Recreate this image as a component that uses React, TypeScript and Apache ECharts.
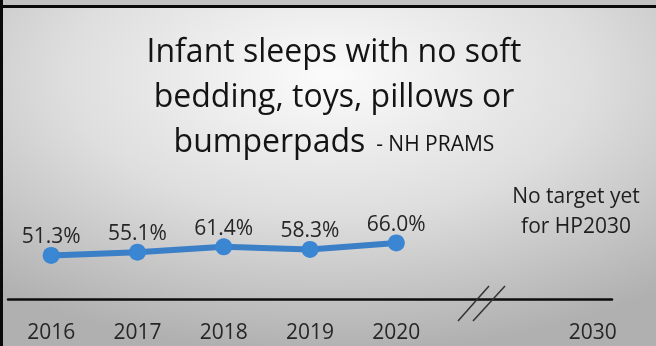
import React, { useEffect, useRef } from "react";
import * as echarts from "echarts";

const years = ["2016", "2017", "2018", "2019", "2020", "", "2030"];
const values = [51.3, 55.1, 61.4, 58.3, 66.0];
const titleLines = ["Infant sleeps with no soft", "bedding, toys, pillows or", "bumperpads"];
const titleSource = "- NH PRAMS";
const noteLines = ["No target yet", "for HP2030"];

const FONT = "'Open Sans', 'Noto Sans', sans-serif";

export default function App() {
  const ref = useRef<HTMLDivElement>(null);
  useEffect(() => {
    if (!ref.current) return;
    const chart = echarts.init(ref.current, undefined, { renderer: "svg" });
    const option: any = {
      animation: false,
      backgroundColor: new echarts.graphic.RadialGradient(0.5, 0.22, 0.8, [
        { offset: 0, color: "#fbfbfb" },
        { offset: 0.5, color: "#dedede" },
        { offset: 1, color: "#b0b0b0" },
      ]),
      grid: { left: 8, right: 44, top: 214, bottom: 47, containLabel: false },
      xAxis: {
        type: "category",
        data: years,
        boundaryGap: true,
        axisLine: { show: true, lineStyle: { color: "#0d0d0d", width: 2.5 } },
        axisTick: { show: false },
        splitLine: { show: false },
        axisLabel: {
          interval: 0,
          margin: 21,
          fontFamily: FONT,
          fontSize: 21,
          color: "#262626",
          formatter: (v: string) => (v === "2030" ? "{far|" + v + "}" : v),
          rich: {
            far: { fontFamily: FONT, fontSize: 21, color: "#262626", padding: [0, 0, 0, 48] },
          },
        },
      },
      yAxis: { type: "value", min: 0, max: 100, show: false, splitLine: { show: false } },
      series: [
        {
          type: "line",
          data: values,
          symbol: "circle",
          symbolSize: 17,
          itemStyle: { color: "#3b86d3" },
          lineStyle: { color: "#3b7fc7", width: 6 },
          label: {
            show: true,
            position: "top",
            distance: 1,
            fontFamily: FONT,
            fontSize: 21,
            color: "#262626",
            formatter: (p: any) => p.value.toFixed(1) + "%",
          },
        },
      ],
      graphic: [
        { type: "rect", shape: { x: 0, y: 0, width: 656, height: 5 }, style: { fill: "#c2c2c2" }, z: 10 },
        { type: "rect", shape: { x: 0, y: 5, width: 656, height: 3 }, style: { fill: "#0a0a0a" }, z: 10 },
        { type: "rect", shape: { x: 0, y: 0, width: 3, height: 346 }, style: { fill: "#0a0a0a" }, z: 10 },
        {
          type: "text",
          x: 334,
          y: 27,
          z: 10,
          style: {
            text:
              "{a|" + titleLines[0] + "}\n{a|" + titleLines[1] + "}\n{a|" + titleLines[2] + "}{b|  " + titleSource + "}",
            align: "center",
            verticalAlign: "top",
            rich: {
              a: { fontFamily: FONT, fontSize: 32, lineHeight: 45, fill: "#141414" },
              b: { fontFamily: FONT, fontSize: 21, lineHeight: 45, fill: "#141414", padding: [6, 0, 0, 0] },
            },
          },
        },
        {
          type: "text",
          x: 576,
          y: 180,
          z: 10,
          style: {
            text: noteLines.join("\n"),
            align: "center",
            verticalAlign: "top",
            fontFamily: FONT,
            fontSize: 21,
            lineHeight: 30,
            fill: "#1e1e1e",
          },
        },
        { type: "line", shape: { x1: 458, y1: 321, x2: 489, y2: 286 }, style: { stroke: "#333", lineWidth: 1.5 }, z: 10 },
        { type: "line", shape: { x1: 473, y1: 321, x2: 505, y2: 286 }, style: { stroke: "#333", lineWidth: 1.5 }, z: 10 },
      ],
    };
    chart.setOption(option);
    return () => chart.dispose();
  }, []);
  return (
    <div
      ref={ref}
      style={{ position: "fixed", left: 0, top: 0, width: 656, height: 346 }}
    />
  );
}
